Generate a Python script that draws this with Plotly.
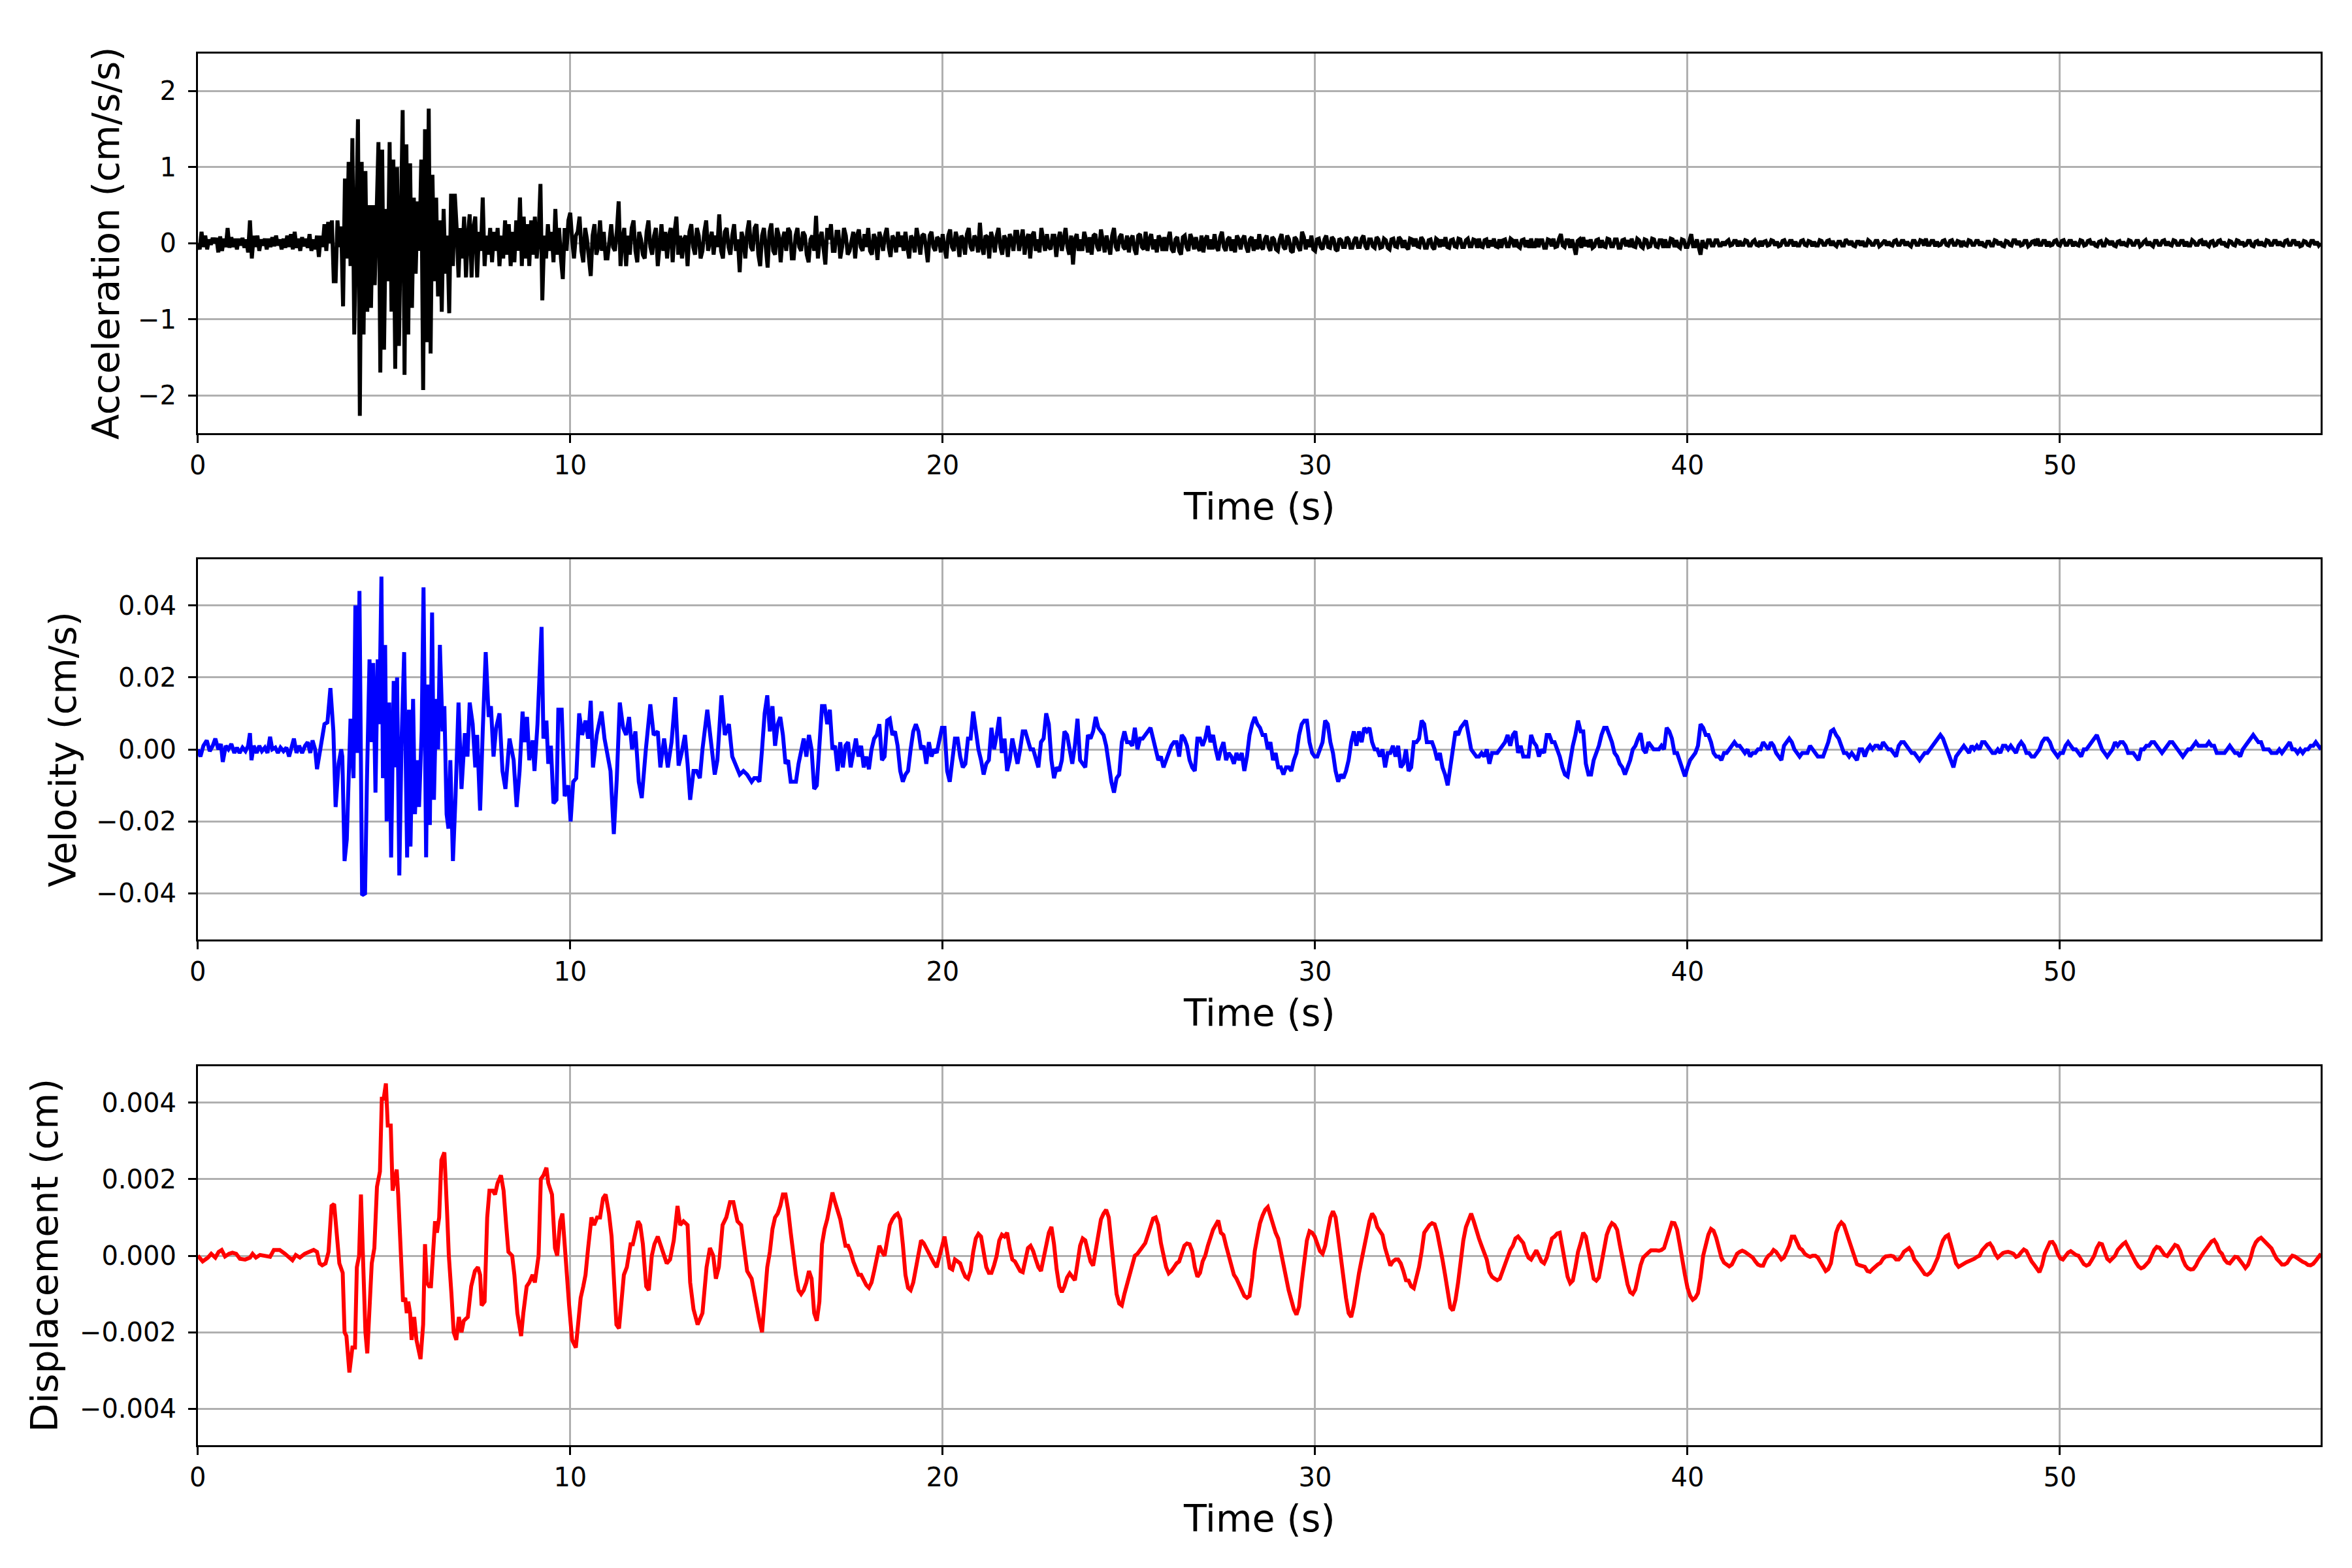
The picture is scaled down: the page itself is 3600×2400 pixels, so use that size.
import plotly.graph_objects as go

# acceleration (cm/s/s): 0-10 s every 0.05 s
acc_early = [
    0.0, -0.08, 0.15, -0.05, 0.10, -0.08, 0.05, -0.02, 0.07, 0.0,
    0.07, -0.12, 0.09, -0.1, 0.06, -0.05, 0.2, -0.06, 0.08, -0.05,
    0.06, -0.08, 0.06, -0.03, 0.07, -0.06, 0.05, -0.12, 0.3, -0.2,
    0.1, -0.05, 0.1, -0.1, 0.05, -0.03, 0.06, -0.08, 0.06, -0.05,
    0.08, -0.04, 0.1, -0.03, 0.05, -0.08, 0.06, -0.06, 0.1, -0.05,
    0.12, -0.08, 0.15, -0.06, 0.06, -0.1, 0.08, -0.04, 0.06, -0.06,
    0.12, -0.1, 0.05, -0.08, 0.1, -0.18, 0.1, -0.05, 0.25, -0.1,
    0.28, 0.0, 0.3, -0.5, -0.5, 0.3, -0.05, 0.22, -0.83, 0.85,
    -0.2, 1.07, -0.3, 1.38, -1.2, 0.3, 1.63, -2.27, 1.07, -1.2,
    0.95, -0.9, 0.5, -0.85, 0.5, -0.55, 0.3, 1.33, -1.7, 1.23,
    -1.4, 0.45, -0.5, 1.33, -0.9, 1.1, -1.65, 1.0, -1.35, 0.6,
    1.75, -1.73, 1.3, -1.2, 1.05, -0.85, 0.6, -0.4, 0.55, -0.1,
    1.1, -1.93, 1.5, -1.3, 1.77, -1.45, 0.9, -0.5, 0.6, -0.7,
    0.3, -0.9, 0.45, -0.4, 0.1, -0.92, 0.65, -0.3, 0.65, 0.2,
    -0.45, 0.2, -0.2, 0.35, -0.45, 0.1, 0.38, -0.45, 0.2, 0.35,
    -0.45, 0.15, -0.1, 0.6, -0.3, 0.1, -0.15, 0.2, -0.25, 0.15,
    -0.1, 0.2, -0.3, 0.1, -0.2, 0.3, -0.15, 0.25, -0.3, 0.15,
    -0.25, 0.3, -0.1, 0.6, -0.3, 0.35, -0.2, 0.25, -0.3, 0.3,
    -0.15, 0.35, -0.2, 0.1, 0.78, -0.75, 0.1, -0.2, 0.25, -0.1,
    0.15, -0.25, 0.45, -0.15, 0.2, -0.2, -0.47, 0.2, -0.1, 0.3,
]
# acceleration from 10 s to 57 s every 0.05 s, in 0.01 cm/s/s (one row per second)
acc_late_cents = [
    40, 5, -20, 10, 15, 35, -10, -25, 20, 5, -15, -43, 10, 25, -15, -5, 30, -10, 15, -20,
    -20, 10, 25, -5, -10, 15, 55, -30, 5, 20, -30, 10, -15, 20, 30, -10, -25, 15, 5, -15,
    -20, 15, 30, -5, -15, 10, 20, -30, 5, 25, -10, 15, -20, 10, 20, -25, 15, 35, -15, 10,
    -20, 5, 10, -30, 15, 25, -5, -15, 20, 10, -20, -10, 15, 30, -10, 5, 15, -15, 10, -5,
    38, -10, -20, 15, 20, -5, -15, 10, 25, -10, 5, -38, 15, 5, -20, 15, 30, -5, -10, 20,
    25, -15, -30, 10, 20, -5, -32, 15, 26, -10, -15, 20, 10, -25, 5, 15, -10, 20, 15, -20,
    -20, 10, 20, -5, -10, 15, 10, -15, -25, 5, 10, -10, 36, -20, 5, 15, -10, -28, 20, 5,
    25, -10, -10, 15, 15, -20, -5, 20, 10, -15, -10, 5, 15, -20, 10, 18, -5, -10, 12, -5,
    20, -10, -15, 12, 5, -22, 15, 5, -10, 10, 20, -5, -18, 10, 5, -12, 15, -5, 10, -10,
    15, -5, -20, 10, 5, -12, 20, 5, -15, 10, 12, -5, -25, 10, 15, -5, -10, 8, 5, -12,
    12, -5, -20, 10, 18, -5, -10, 15, 5, -18, 10, 5, -15, 12, 20, -5, -10, 10, 5, -12,
    27, -5, -15, 10, 8, -20, 15, 5, -12, 10, 20, -5, -15, 10, 5, -18, 12, 5, -10, 15,
    15, -10, 5, 18, -15, 5, 12, -20, 10, 15, -10, 5, -12, 20, 5, -10, 12, -5, -8, 10,
    10, -18, 5, 15, -10, 5, 20, -5, -15, 10, -28, 5, 12, -10, 5, -10, 15, 5, -12, 8,
    -15, 10, 12, -5, -10, 18, 5, -12, 10, -5, -15, 10, 20, -5, -10, 8, 12, -5, -8, 10,
    -12, 5, 10, -8, -15, 10, 12, -5, -8, 15, -10, 5, 12, -8, 5, -12, 10, 5, -10, 8,
    -10, 5, 15, -8, -12, 5, 8, -10, -15, 8, 10, -5, -10, 12, 5, -8, 8, -5, -10, 10,
    -12, 5, 10, -8, 5, -8, 12, -5, -10, 8, 15, -5, -10, 5, 8, -10, 5, -12, 10, 5,
    -8, 5, 10, -5, -12, 5, 8, -10, 5, -8, 12, -5, -8, 5, 10, -5, -10, 8, 5, -8,
    -10, 5, 12, -5, -8, 10, 5, -10, -12, 8, 5, -5, -10, 15, 8, -8, 5, -5, 10, -8,
    -10, 5, 6, -5, -8, 5, 10, -5, -6, 8, 5, -8, -10, 6, 4, -5, -5, 8, 5, -6,
    -6, 4, 8, -5, -5, 6, 10, -4, -8, 5, 5, -4, -6, 8, 5, -6, -5, 6, 4, -6,
    -8, 5, 6, -4, -5, 8, 5, -6, 4, -5, -8, 6, 5, -4, 6, -4, -5, 8, 4, -6,
    -6, 4, 5, -5, -8, 6, 4, -5, 5, -4, 8, -5, -6, 4, 5, -4, -5, 6, 5, -5,
    -5, 4, 6, -4, -4, 5, 4, -6, 6, -4, -5, 4, 5, -6, 4, -4, 6, -4, -5, 5,
    -6, 4, 5, -4, -4, 6, 4, -5, 5, -4, -6, 4, 5, -5, 4, -6, 6, -4, -4, 6,
    -5, 4, 4, -6, -6, 5, 4, -4, 6, -5, -4, 6, 12, -3, -5, 4, 4, -6, 5, -4,
    -15, 3, 5, -6, 8, -4, 4, -5, 5, -6, -4, 4, 5, -6, 4, -4, -5, 6, 5, -4,
    -4, 5, 5, -6, -6, 4, 5, -4, 4, -5, 6, -4, -5, 6, 4, -4, -6, 5, 4, -5,
    -4, 6, 5, -4, -5, 4, 4, -6, 5, -4, -4, 6, 5, -5, 4, -4, -6, 5, 4, -5,
    -5, 3, 12, -4, -4, 5, -6, -15, 4, -4, -5, 4, 4, -3, -3, 4, 4, -3, -3, 2,
    -3, 2, 4, -3, -2, 3, 3, -4, 3, -2, -2, 4, 3, -3, -3, 2, 4, -2, -3, 3,
    -4, 2, 3, -3, -2, 4, 3, -3, 2, -4, -3, 3, 4, -2, -2, 3, 3, -4, 2, -3,
    -3, 3, 4, -2, -3, 3, 2, -4, 2, -3, -3, 4, 3, -2, -2, 3, 4, -3, 3, -2,
    -4, 2, 2, -3, -3, 5, 2, -2, 3, -3, -4, 2, 2, -3, 3, -3, -3, 4, 2, -2,
    -2, 3, 3, -4, -2, 2, 4, -3, 2, -2, -3, 3, 4, -2, -2, 3, 3, -3, 2, -2,
    -4, 3, 3, -2, -2, 4, 3, -3, 6, -2, -2, 3, 3, -4, 2, -3, -2, 3, 4, -2,
    -3, 3, 4, -2, -2, 3, 2, -5, 3, -2, -3, 4, 3, -2, -2, 3, 3, -3, 2, -3,
    -4, 2, 2, -3, -3, 4, 3, -2, 2, -3, -4, 3, 2, -2, -3, 4, 4, -2, 3, -3,
    -2, 3, 3, -4, -2, 2, 3, -3, 6, -2, -2, 3, 3, -4, 2, -3, -2, 3, 4, -2,
    -3, 3, 4, -2, -2, 3, 3, -4, 2, -2, -3, 4, 3, -3, -2, 3, 4, -2, 2, -3,
    -4, 2, 3, -3, -3, 4, 2, -2, 3, -3, -4, 2, 3, -3, 2, -2, -3, 4, 3, -2,
    -2, 3, 3, -4, -2, 2, 4, -3, 2, -2, -4, 3, 3, -2, -2, 3, 4, -3, 2, -2,
    -3, 4, 3, -2, -2, 3, 3, -4, 2, -3, -3, 4, 2, -2, -2, 3, 4, -3, 3, -2,
    -4, 2, 3, -3, -2, 3, 4, -2, 2, -3, -4, 3, 2, -2, -3, 4, 3, -2, 2, -3,
    -2, 3, 3, -3, -4, 2, 3, -3, 2, -2, -3, 4, 3, -2, -2, 3, 3, -3, 2, -2,
    -3, 3, 4, -2, -2, 3, 3, -3, 2, -4, -3, 3, 2, -2, -3, 3, 3, -2, 2, -3,
    0,
]

# velocity in 1e-3 cm/s: burst read at irregular times, tail every 0.07 s from 14.87 s
vel_early_t = [
    0.0, 0.07, 0.15, 0.24, 0.32, 0.4, 0.47, 0.55, 0.62, 0.67, 0.75, 0.82, 0.9, 0.98,
    1.05, 1.12, 1.2, 1.28, 1.35, 1.4, 1.44, 1.5, 1.58, 1.65, 1.72, 1.8, 1.87, 1.94,
    2.0, 2.08, 2.15, 2.22, 2.3, 2.38, 2.45, 2.52, 2.58, 2.65, 2.72, 2.8, 2.88, 2.95,
    3.02, 3.08, 3.15, 3.2, 3.27, 3.34, 3.4, 3.48, 3.56, 3.64, 3.7, 3.78, 3.85, 3.88,
    3.94, 4.0, 4.1, 4.18, 4.23, 4.29, 4.34, 4.41, 4.49, 4.54, 4.61, 4.67, 4.71, 4.77,
    4.83, 4.87, 4.93, 4.97, 5.03, 5.07, 5.14, 5.19, 5.26, 5.31, 5.35, 5.41, 5.47, 5.54,
    5.62, 5.67, 5.71, 5.78, 5.83, 5.89, 5.94, 6.01, 6.06, 6.13, 6.18, 6.23, 6.29, 6.34,
    6.4, 6.45, 6.5, 6.57, 6.62, 6.68, 6.73, 6.78, 6.85, 6.92, 7.0, 7.08, 7.17, 7.24,
    7.3, 7.38, 7.45, 7.5, 7.58, 7.65, 7.73, 7.81, 7.87, 7.94, 8.01, 8.1, 8.18, 8.26,
    8.37, 8.48, 8.56, 8.64, 8.72, 8.77, 8.84, 8.9, 8.99, 9.04, 9.12, 9.23, 9.28, 9.36,
    9.41, 9.48, 9.55, 9.63, 9.68, 9.77, 9.85, 9.95, 10.01, 10.08, 10.16, 10.24, 10.32, 10.41,
    10.48, 10.55, 10.61, 10.71, 10.84, 10.92, 11.01, 11.08, 11.17, 11.25, 11.33, 11.42, 11.5, 11.58,
    11.66, 11.75, 11.84, 11.92, 12.03, 12.15, 12.24, 12.35, 12.42, 12.52, 12.62, 12.72, 12.82, 12.91,
    12.99, 13.08, 13.15, 13.22, 13.31, 13.39, 13.48, 13.55, 13.68, 13.79, 13.88, 13.95, 14.06, 14.15,
    14.26, 14.35, 14.46, 14.55, 14.65, 14.75,
]
vel_early = [
    0, -2, 1, 2.5, -0.5, 1, 3, 0, 1.5, -3.5, 1, 0, 1.5, -1,
    0.5, -1, 0.5, -0.5, 1, 4.5, -3, 1, -1, 1, -0.5, 0.5, -1, 3.5,
    0, 0.5, -1, 0.5, -0.5, 0.5, -2, 0.5, 3, -1, 1, -1, 1, 2,
    -1, 2.5, 0, -5.5, -1, 2, 7, 7.5, 17, 5, -16, -4, 0, -2,
    -31, -25, 8.5, -8, 40, -1, 44, -40.5, -40, -9, 25, 2, 24, -12,
    25, 7, 48, -8, 29, -20, 13, -30, 19, -5, 20, -35, 2, 27,
    -30, 11, -27, 14, -18, -3, -16, 5, 45, -30, 18, -21, 38, -14,
    14, 0, 29, 5, 12, -18, -22, -3, -31, -13, 13, -11, 4.5, -2,
    13, 7, -5, 4, -17, 5, 27, 9, 12, -2, 6, 10, -6, -11,
    3, -3, -16, -6, 10.5, 2, 9, -3, 2.5, -6, 7, 34, 3, 8,
    -4, 1, -15, -14, 11, 11, -13, -10, -20, -9, -8, 10, 4, 8,
    3, 13.5, -5, 4, 10.5, 3, -3, -6, -23.5, -8, 13, 6, 4, 9,
    0, 5, -9, -13.5, 0, 12.5, 4, 5, -5, 3, -5, 2, 14.5, -4.5,
    -1, 4, -4, -14, -6, -6, -8, 0, 11, 2, -7, -3, 15, 4,
    7, -2, -5, -7, -6, -7,
]
vel_tail = [
    -9, -8, -8, -9, 0, 10, 15, 5, 12, 1, 7, 9, 4, -4, -3, -9, -9, -9, -4, -1,
    3, -2, 4, 0, -11, -10, 0, 12, 12, 7, 11, 0, 1, -6, 2, -5, 1, 2, -5, -1,
    3, -2, 1, -5, -2, -5.5, 0, 3, 4, 7, -3, -2, 8, 8.5, 4, 5, 1, -6, -9, -7,
    -6, 0, 5, 7, 5, 0, 1, -4, 2, -2, 0, -1, 3, 6, 6, -6, -9, -3, 3, 3,
    -2, -5, -4, 3, 3, 10.5, 5, 0, -3, -7, -4, -3, 6, 0, 4, 9, -1, 3, -6, -3,
    3, -1, -4, 0, 5, 5, 2, 0, 0, -3, -5, 2, 3, 10, 7, -3, -8, -5, -6, -3,
    5, 4, 0, -4, 1, 8.5, -3, -4, -5, 4, 3, 5, 9, 6, 5, 4, 1, -4, -9, -12,
    -8, -7, 2, 5, 2, 2, 1, 6, 0, 3, 3, 4, 5, 6, 3, 0, -3, -2, -5, -3,
    -1, 1, 2, 2, -2, 4, 3, 1, -3, -5, -6, 3, 3, 1, 3, 6.5, 2, 4, 0, -3,
    0, 2, -3, -1, -2, -4, -1, -3, -1, -6, -2, 4, 7, 9, 7, 6, 4, 4, 0, 2,
    -3, -1, -5, -5, -7, -5, -5, -6, -3, -1, 4, 7, 8, 8, 2, -1, -2, -2, 0, 2,
    8, 7, 2, -1, -6, -9, -7, -8, -6, -3, 2, 5, 1, 5, 2, 6, 5, 6, 2, 0,
    0, -2, 0, -5, -1, -1, 1, -2, 1, -5, -4, 0, -6, -5, 2, 2, 3, 8, 7, 2,
    2, 2, 0, -3, -1, -5, -7, -10, -5, 0, 5, 4, 6, 7, 8, 4, 0, -1, -2, -2,
    -1, -2, 0, -4, -1, -1, -1, 0, 1, 2, 4, 1, 4, 5, -1, 1, -2, -2, -2, 4,
    2,
    1, -2, 0, -1, 4, 4, 2, 2, 0, -2, -5, -7, -7.5, -3, 1, 4, 8, 5, 5, -4,
    -7, -7, -3, -1, 1, 4, 6, 6, 4, 2, -1, -2, -4, -5, -7, -5, -3, 0, 1, 3,
    4.5, 0, -1, 2, 1, 0, 0, 0, 1, 0, 6, 5, 3, -1, -1, -3, -5, -7.5, -5, -3,
    -2, -1, 1, 7, 6, 4, 4, 2, -1, -2, -2, -3, -1, -1, 0, 1, 2, 1, 1, 0,
    -1, 0, -2, -1, -1, 0, 0, 2, 1, 0, 2, 1, -1, -2, -3, 1, 2, 3, 2, 0,
    -1, -2, -1, -1, -1, 1, 0, -1, -2, -2, -2, 0, 2, 5, 5.5, 4, 3, 1, -1, -1,
    -2, -1, -2, -3, 0, 0, -2, 0, 1, 0, 1, 1, 0, 2, 1, 0, 0, -1, -2, 1,
    2, 2, 1, 0, -1, -1, -2, -3, -2, -1, -1, 0, 1, 2, 3, 4, 3, 1, -1, -3,
    -5, -2, -1, 0, 1, 0, -1, 1, 0, 1, 0, 2, 2, 1, 0, -1, -1, 0, -1, 1,
    1, 0, 1, 0, -1, 1, 2, 1, -1, -1, -2, -2, -1, 0, 2, 3, 3, 2, 0, -1,
    -2, -1, -1, 1, 2, 1, 0, 0, -1, -2, 0, 0, 1, 2, 3, 4, 2, 0, -1, -2,
    -1, 0, 2, 1, 2, 2, 1, -1, -1, -1, -2, -3, 0, 0, 1, 1, 2, 2, 1, 0,
    -1, 0, 1, 2, 2, 1, 0, -1, -2, -1, 0, 0, 1, 2, 1, 1, 1, 1, 2, 1,
    1, -1, -1, -1, -1, 0, 1, 0, -1, -1, -2, 0, 1, 2, 3, 4, 3, 2, 2, 0,
    0, 0, -1, -1, -1, 0, -1, 0, 1, 2, 0, 0, -1, 0, -1, 0, 0, 1, 1, 2,
    1, 0,
]

# displacement in 1e-4 cm: same layout as velocity
disp_early_t = [
    0.0, 0.13, 0.27, 0.36, 0.47, 0.56, 0.64, 0.73, 0.84, 0.93, 1.03, 1.13, 1.27, 1.4,
    1.47, 1.56, 1.67, 1.8, 1.94, 2.04, 2.2, 2.34, 2.44, 2.54, 2.63, 2.74, 2.87, 3.0,
    3.11, 3.2, 3.27, 3.34, 3.43, 3.51, 3.59, 3.66, 3.74, 3.8, 3.89, 3.94, 3.99, 4.07,
    4.15, 4.22, 4.27, 4.33, 4.38, 4.43, 4.5, 4.55, 4.62, 4.67, 4.74, 4.81, 4.89, 4.94,
    4.99, 5.05, 5.1, 5.18, 5.23, 5.29, 5.34, 5.38, 5.45, 5.51, 5.57, 5.61, 5.65, 5.7,
    5.74, 5.81, 5.87, 5.91, 5.98, 6.05, 6.1, 6.15, 6.21, 6.26, 6.32, 6.37, 6.42, 6.48,
    6.54, 6.62, 6.69, 6.74, 6.81, 6.87, 6.94, 7.01, 7.08, 7.14, 7.25, 7.34, 7.44, 7.52,
    7.58, 7.62, 7.7, 7.77, 7.83, 7.92, 7.98, 8.05, 8.14, 8.21, 8.28, 8.34, 8.44, 8.5,
    8.58, 8.68, 8.74, 8.83, 8.9, 8.99, 9.05, 9.15, 9.21, 9.28, 9.36, 9.41, 9.51, 9.59,
    9.65, 9.73, 9.79, 9.85, 9.91, 9.97, 10.05, 10.15, 10.21, 10.28, 10.35, 10.41, 10.48, 10.57,
    10.64, 10.72, 10.8, 10.88, 10.95, 11.04, 11.11, 11.17, 11.24, 11.31, 11.38, 11.44, 11.52, 11.62,
    11.68, 11.75, 11.82, 11.88, 11.95, 12.04, 12.11, 12.19, 12.26, 12.35, 12.42, 12.51, 12.59, 12.68,
    12.78, 12.88, 12.95, 13.04, 13.15, 13.22, 13.31, 13.42, 13.55, 13.66, 13.75, 13.84, 13.91, 13.99,
    14.09, 14.19, 14.29, 14.38, 14.49, 14.59, 14.69, 14.75,
]
disp_early = [
    0, -1.5, -0.5, 0.5, -0.5, 1, 1.5, -0.2, 0.5, 0.8, 0.5, -0.8, -1, -0.5,
    0.5, -0.5, 0.2, 0, -0.3, 1.5, 1.5, 0.5, -0.5, -1.2, 0.2, -0.5, 0.5, 1,
    1.5, 1, -2, -2.5, -2, 1, 13, 13.5, 3, -2, -4.5, -20, -21, -30.5,
    -24, -24, -3, 0, 16, -2, -20, -25.5, -11, -2, 2, 18, 22, 41,
    41, 45, 34, 34, 17, 20, 22.5, 16, 0, -12, -11, -15, -12, -15,
    -22, -16, -22, -24, -27, -18, 3, -7, -8, -8, 4, 9, 6, 10,
    25, 27, 12, 0, -10, -20, -22, -16, -20, -17, -16, -8, -4, -3,
    -5, -13, -12, 10, 17, 17, 16, 19, 21, 17, 8, 1, 0, -5,
    -15, -21, -15, -8, -7, -5, -7, 0, 20, 21, 23, 19, 16, 2,
    0, 9, 11, 2, -4, -13, -22, -24, -18, -11, -8, -5, 2, 10,
    8, 10, 10, 15, 16, 11, 5, -5, -18, -19, -12, -5, -3, 3,
    3, 6, 9, 8, 3, -8, -9, 0, 3, 5, 3, 0, -2, -1,
    4, 13, 8, 9, 8, -7, -14, -18, -15, -3, 2, 0, -6, -3,
    8, 10, 14, 14, 9, 8, 0, -4,
]
disp_tail = [
    -6, -10, -13, -17, -20, -12, -3, 1, 7, 10, 11, 13, 16, 16, 12, 6, 0, -5, -9, -10,
    -9, -7, -4, -6, -15, -17, -12, 3, 7, 9.5, 13, 16.5, 14, 12, 9.5, 6, 2.6, 2.6, 1, -1.5,
    -3, -5, -5, -6.5, -7.7, -8.4, -7, -4, -1, 2.6, 1, 0, 4, 8, 9.5, 10.5, 11, 9.5, 3, -5,
    -8.4, -9, -7, -3, 1.5, 4, 3.3, 2, 0.5, -1, -2, -3, 0, 2.6, 5, 1, -3.2, -3.6, -1, -1.5,
    -2, -4, -5.5, -6, -4, 1, 4.5, 5.7, 5, 1, -3, -4.5, -4.5, -2.5, 0, 4, 5.5, 5, 6, 2,
    -1, -1.5, -3, -4, -4.3, -1, 2, 2.6, 1.2, -1, -3, -4, -1, 2.6, 6, 7.5, 3, -3.5, -8, -9.5,
    -8, -5.7, -4.6, -5.5, -6.4, -2, 2.6, 4.5, 4, 1.2, -1.5, -2.6, 1.2, 6, 9.5, 11, 12, 10, 4, -3,
    -10, -12.5, -13, -10, -7.5, -5, -2.5, 0, 0.5, 1.5, 2.6, 3.3, 5.4, 8, 9.7, 10, 8, 3.3, 0.5, -3,
    -4.6, -4, -3, -2, -1.5, 0.5, 2.6, 3.2, 3, 1.2, -3, -5.5, -4.5, -1.5, 0, 2.6, 5, 6.8, 8, 9.2,
    6, 5.4, 2.6, 0, -2.5, -5, -6, -7.5, -9, -10.5, -11, -10.5, -5.7, 1.2, 5, 8.5, 10.5, 12, 12.7, 10.5,
    8, 6, 4.5, 1.2, -3, -6.5, -9, -11.5, -14, -15.4, -13.3, -7, -1, 4, 6.4, 6, 5, 3, 1.2, 0.5,
    2.6, 6.5, 10, 11.6, 10, 5, -1, -6, -11, -15, -16, -13, -8.4, -4.5, -1, 2.6, 6, 9, 11, 10,
    7.5, 6.5, 5.4, 2, -0.5, -2.6, -1.5, -1, -1, -2, -4, -6.4, -6.5, -8, -8.5, -5.7, -3, 1, 6, 7,
    8, 8.5, 8.2, 6, 3, -1, -5, -10, -13.5, -14.3, -11.5, -7, -1, 4, 7.5, 9.5, 11, 9, 6.5, 4.5,
    2.6, 1, -1, -4.3, -5.5, -6, -6.4, -6, -4, -2, 0, 1.5, 2.6, 4.5, 5, 4, 3.3, 1, -0.5, -1,
    0.5,
    1.4, 0, -1.5, -2, -0.5, 2, 4.5, 5, 5.8, 6, 2.6, -1.5, -5.5, -7.2, -6.5, -3, 1, 3.3, 6, 5,
    1.2, -3, -6, -6.5, -5.7, -2, 2, 5.4, 7.3, 8.5, 8, 6.8, 3, -1, -3.6, -7.5, -9.5, -10, -8.8, -5.5,
    -2.5, -0.5, 0, 0.8, 1.4, 1.5, 1.4, 1.3, 1.5, 2, 4.5, 7, 8.6, 8.5, 6.8, 3, -1.5, -5, -8.4, -10.5,
    -11.5, -11, -9.8, -5.7, 0, 3, 5.5, 7, 6.5, 4.7, 2, -0.5, -1.8, -2.2, -2.8, -2.3, -1, 0.5, 1, 1.3,
    1, 0.5, 0, -0.5, -1.5, -2.3, -2.6, -2.6, -1, 0, 0.5, 1.5, 1, 0, -1, -0.5, 1, 2.6, 5, 5,
    3.5, 2, 1.5, 0.5, 0, -0.3, 0, 0, -0.5, -1.5, -2.8, -4, -3.5, -2, 2.5, 6, 7.8, 8.7, 8, 6,
    4, 2, 0, -2.2, -2.5, -2.6, -2.9, -4, -4.2, -3.5, -2.8, -2.3, -1.9, -0.8, -0.2, 0, 0, -0.2, -1, -1,
    -0.2, 1, 1.6, 2, 1, -1, -1.9, -3, -4, -4.8, -5, -4.5, -3.6, -2.2, -0.5, 2, 4, 5, 5.4, 3,
    0, -2, -2.9, -2.4, -2.2, -1.7, -1.4, -1.2, -0.8, -0.3, 0, 1.4, 2.2, 2.9, 3.2, 2.2, 0.5, -0.5, 0.1, 0.7,
    0.9, 1, 0.8, 0.5, -0.3, 0, 0.9, 1.6, 1.2, -0.2, -1.5, -2.4, -3.3, -4.3, -2.5, 0.5, 2, 3.5, 3.6, 2.6,
    0.5, -0.7, -1, 0, 0.8, 1.2, 0.6, 0.2, 0, -1.2, -2.2, -2.6, -2.3, -1.2, 0, 2, 3.2, 3, 1.2, -0.8,
    -1.4, -0.8, 0, 1.5, 2.3, 3, 3.5, 2.2, 0.5, -0.5, -1.8, -2.8, -3.3, -3, -2.2, -1.5, 0, 1.5, 2.3, 2.1,
    1.2, 0.2, -0.1, 0.8, 1.6, 2.8, 2.5, 1.2, -1, -2.5, -3.3, -3.6, -3.5, -2.6, -1.2, 0, 0.9, 1.8, 2.8, 3.7,
    4.1, 3, 1.2, 0.5, -1, -1.8, -2, -1, -0.3, -0.4, -1.2, -2.2, -3.2, -2.4, -0.5, 2, 3.5, 4.3, 4.7, 4,
    3, 2.3, 1.9, 0.5, -0.8, -1.5, -2.3, -2.3, -1.9, -0.8, 0, -0.2, -0.7, -1.3, -1.6, -1.9, -2.4, -2.5, -2.1, -1.3,
    -0.2, 0.5,
]

tail_start = 14.87
tail_dt = 0.07

acc_t = [i * 0.05 for i in range(len(acc_early) + len(acc_late_cents))]
acc = acc_early + [a / 100 for a in acc_late_cents]

vel_t = vel_early_t + [tail_start + i * tail_dt for i in range(len(vel_tail))]
vel = [v / 1000 for v in vel_early + vel_tail]

disp_t = disp_early_t + [tail_start + i * tail_dt for i in range(len(disp_tail))]
disp = [d / 10000 for d in disp_early + disp_tail]

W, H = 3600, 2400
x_dom = [302.8 / W, 3552 / W]
panel_px = [(81.6, 663), (856, 1438), (1632, 2212)]  # top/bottom edge of each panel, px from top
y_doms = [[1 - b / H, 1 - t / H] for t, b in panel_px]

fig = go.Figure()
fig.add_trace(go.Scatter(x=acc_t, y=acc, mode="lines", line=dict(color="black", width=6),
                         xaxis="x", yaxis="y"))
fig.add_trace(go.Scatter(x=vel_t, y=vel, mode="lines", line=dict(color="blue", width=6),
                         xaxis="x2", yaxis="y2"))
fig.add_trace(go.Scatter(x=disp_t, y=disp, mode="lines", line=dict(color="red", width=6),
                         xaxis="x3", yaxis="y3"))

axis_style = dict(showgrid=True, gridcolor="#b0b0b0", gridwidth=2.7, zeroline=False,
                  showline=True, linecolor="black", linewidth=2.7, mirror=True,
                  ticks="outside", ticklen=12, tickwidth=2.7, tickcolor="black",
                  tickfont=dict(size=40, color="black"), automargin=False)

layout = dict(width=W, height=H, margin=dict(l=0, r=0, t=0, b=0),
              paper_bgcolor="white", plot_bgcolor="white", showlegend=False,
              font=dict(family="DejaVu Sans", color="black"))

series = [acc, vel, disp]
ydticks = [1, 0.02, 0.002]
yformats = ["d", ".2f", ".3f"]
for i in range(3):
    sx = "" if i == 0 else str(i + 1)
    lim = 1.1 * max(abs(v) for v in series[i])
    layout["xaxis" + sx] = dict(axis_style, domain=x_dom, range=[0, 57], tick0=0, dtick=10,
                                anchor="y" + sx)
    layout["yaxis" + sx] = dict(axis_style, domain=y_doms[i], range=[-lim, lim], tick0=0,
                                dtick=ydticks[i], tickformat=yformats[i], anchor="x" + sx,
                                ticklabelstandoff=10)
fig.update_layout(**layout)

ytitles = ["Acceleration (cm/s/s)", "Velocity (cm/s)", "Displacement (cm)"]
ytitle_x = [162.6 / W, 96 / W, 68 / W]
for i in range(3):
    mid = (y_doms[i][0] + y_doms[i][1]) / 2
    fig.add_annotation(text=ytitles[i], xref="paper", yref="paper", x=ytitle_x[i], y=mid,
                       textangle=-90, showarrow=False, xanchor="center", yanchor="middle",
                       font=dict(size=57, color="black"))
    fig.add_annotation(text="Time (s)", xref="paper", yref="paper",
                       x=(x_dom[0] + x_dom[1]) / 2, y=y_doms[i][0] - 112 / H,
                       showarrow=False, xanchor="center", yanchor="middle",
                       font=dict(size=57, color="black"))

# drop the browser's default body margin so the figure sits at the page origin
fig.write_html("out.html", config={"displayModeBar": False},
               post_script="document.body.style.margin = '0px';")
